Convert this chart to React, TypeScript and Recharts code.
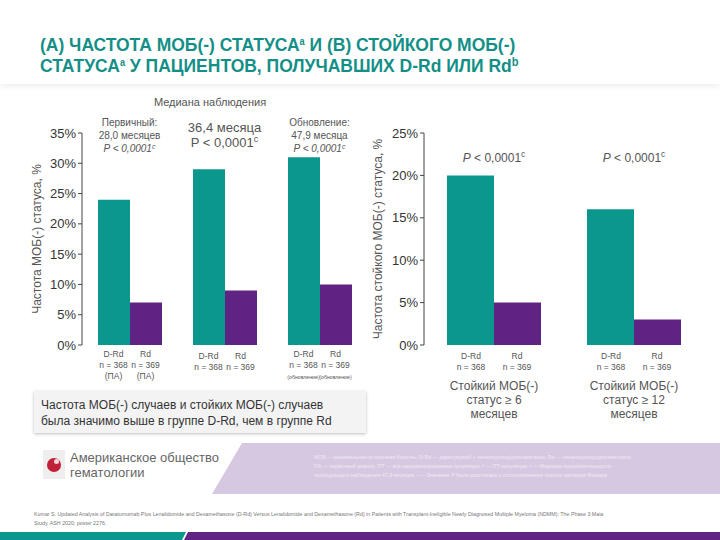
import { BarChart, Bar, XAxis, YAxis, Label } from "recharts";

const TEAL = "#0b968e";
const PURPLE = "#5f2383";
const GRAY = "#555";

// (A) MRD-negative rate, %
const groupsA = ["ПА", "Медиана", "Обновление"];
const drdA = [24, 29, 31];
const rdA = [7, 9, 10];
const topNotesA = [
  ["Первичный:", "28,0 месяцев", "P < 0,0001"],
  ["36,4 месяца", "P < 0,0001"],
  ["Обновление:", "47,9 месяца", "P < 0,0001"],
];
const subNotesA = ["(ПА)", "", "(обновление)"];
const ticksA = [0, 5, 10, 15, 20, 25, 30, 35];

// (B) sustained MRD-negative rate, %
const groupsB = ["≥ 6", "≥ 12"];
const drdB = [20, 16];
const rdB = [5, 3];
const bottomNotesB = [
  ["Стойкий МОБ(-)", "статус ≥ 6", "месяцев"],
  ["Стойкий МОБ(-)", "статус ≥ 12", "месяцев"],
];
const ticksB = [0, 5, 10, 15, 20, 25];

const dataA = groupsA.map((g, i) => ({ g, drd: drdA[i], rd: rdA[i] }));
const dataB = groupsB.map((g, i) => ({ g, drd: drdB[i], rd: rdB[i] }));

const font = "'Liberation Sans', Arial, sans-serif";

function Sup({ children }: { children: string }) {
  return <tspan baselineShift="super" fontSize="70%">{children}</tspan>;
}

function TickA(props: any) {
  const { x, index } = props;
  const notes = topNotesA[index];
  const big = notes.length === 2;
  const sub = subNotesA[index];
  return (
    <g fontFamily={font} fill={GRAY}>
      {notes.map((t, k) => {
        const last = k === notes.length - 1;
        return (
          <text
            key={k}
            x={x}
            y={big ? 32 + k * 15 : 26 + k * 13}
            textAnchor="middle"
            fontSize={big ? 13 : 10}
            fontStyle={last && !big ? "italic" : "normal"}
          >
            {t}
            {last ? <Sup>c</Sup> : null}
          </text>
        );
      })}
      {[-16, 16].map((dx, k) => (
        <g key={k} fontSize={8.5} textAnchor="middle">
          <text x={x + dx} y={257 + (index === 1 ? 2 : 0)}>{k === 0 ? "D-Rd" : "Rd"}</text>
          <text x={x + dx} y={268 + (index === 1 ? 2 : 0)}>{k === 0 ? "n = 368" : "n = 369"}</text>
          {sub ? (
            <text x={x + dx} y={279} fontSize={index === 2 ? 5.2 : 8.5}>{sub}</text>
          ) : null}
        </g>
      ))}
    </g>
  );
}

function TickB(props: any) {
  const { x, index } = props;
  return (
    <g fontFamily={font} fill={GRAY}>
      <text x={x} y={62} textAnchor="middle" fontSize={12}>
        <tspan fontStyle="italic">P</tspan> {"< 0,0001"}
        <Sup>c</Sup>
      </text>
      {[-23, 23].map((dx, k) => (
        <g key={k} fontSize={8.5} textAnchor="middle">
          <text x={x + dx} y={259}>{k === 0 ? "D-Rd" : "Rd"}</text>
          <text x={x + dx} y={270}>{k === 0 ? "n = 368" : "n = 369"}</text>
        </g>
      ))}
      {bottomNotesB[index].map((t, k) => (
        <text key={k} x={x} y={290 + k * 14} textAnchor="middle" fontSize={12}>
          {t}
        </text>
      ))}
    </g>
  );
}

const tickStyle = { fontSize: 13, fill: "#333", fontFamily: font };

const titleLine = {
  position: "absolute" as const,
  left: 40,
  color: "#138f87",
  fontWeight: 700,
  fontSize: 19,
  lineHeight: "19px",
  whiteSpace: "nowrap" as const,
  transform: "scaleX(0.92)",
  transformOrigin: "left top",
};

export default function App() {
  return (
    <div
      style={{
        position: "fixed",
        left: 0,
        top: 0,
        width: 720,
        height: 540,
        background: "#fff",
        overflow: "hidden",
        fontFamily: font,
      }}
    >
      {/* title */}
      <div
        style={{
          position: "absolute",
          left: 0,
          top: 0,
          width: 720,
          height: 84,
          background: "#fff",
          boxShadow: "0 2px 6px rgba(0,0,0,0.08)",
        }}
      />
      <div style={{ ...titleLine, top: 32 }}>
        (А) ЧАСТОТА МОБ(-) СТАТУСА<span style={{ fontSize: 10, verticalAlign: 6 }}>а</span> И (В) СТОЙКОГО МОБ(-)
      </div>
      <div style={{ ...titleLine, top: 53 }}>
        СТАТУСА<span style={{ fontSize: 10, verticalAlign: 6 }}>а</span> У ПАЦИЕНТОВ, ПОЛУЧАВШИХ D-Rd ИЛИ Rd
        <span style={{ fontSize: 12, verticalAlign: 6 }}>b</span>
      </div>

      <div style={{ position: "absolute", left: 150, top: 96, width: 120, textAlign: "center", fontSize: 11, color: GRAY }}>
        Медиана наблюдения
      </div>

      {/* chart A */}
      <div style={{ position: "absolute", left: 0, top: 100 }}>
        <BarChart
          width={380}
          height={300}
          data={dataA}
          margin={{ top: 33, right: 13, left: 32, bottom: 0 }}
          barSize={32}
          barGap={0}
        >
          <XAxis dataKey="g" axisLine={false} tickLine={false} height={55} tick={<TickA />} interval={0} />
          <YAxis
            domain={[0, 35]}
            ticks={ticksA}
            tickFormatter={(v) => `${v}%`}
            width={50}
            tick={tickStyle}
            stroke="#444"
            tickSize={4}
          >
            <Label
              value="Частота МОБ(-) статуса, %"
              angle={-90}
              position="insideLeft"
              offset={5}
              style={{ textAnchor: "middle", fontSize: 12, fill: GRAY, fontFamily: font }}
            />
          </YAxis>
          <Bar dataKey="drd" fill={TEAL} isAnimationActive={false} />
          <Bar dataKey="rd" fill={PURPLE} isAnimationActive={false} />
        </BarChart>
      </div>

      {/* chart B */}
      <div style={{ position: "absolute", left: 370, top: 100 }}>
        <BarChart
          width={350}
          height={330}
          data={dataB}
          margin={{ top: 33, right: 16, left: 4, bottom: 0 }}
          barSize={47}
          barGap={0}
        >
          <XAxis dataKey="g" axisLine={false} tickLine={false} height={85} tick={<TickB />} interval={0} />
          <YAxis
            domain={[0, 25]}
            ticks={ticksB}
            tickFormatter={(v) => `${v}%`}
            width={50}
            tick={tickStyle}
            stroke="#444"
            tickSize={4}
          >
            <Label
              value="Частота стойкого МОБ(-) статуса, %"
              angle={-90}
              position="insideLeft"
              offset={4}
              style={{ textAnchor: "middle", fontSize: 12, fill: GRAY, fontFamily: font }}
            />
          </YAxis>
          <Bar dataKey="drd" fill={TEAL} isAnimationActive={false} />
          <Bar dataKey="rd" fill={PURPLE} isAnimationActive={false} />
        </BarChart>
      </div>

      {/* conclusion box */}
      <div
        style={{
          position: "absolute",
          left: 34,
          top: 391,
          width: 318,
          height: 30,
          padding: "6px 7px",
          background: "#f3f3f3",
          boxShadow: "0 1px 3px rgba(0,0,0,0.25)",
          fontSize: 12,
          lineHeight: "16px",
          color: "#333",
        }}
      >
        Частота МОБ(-) случаев и стойких МОБ(-) случаев
        <br />
        была значимо выше в группе D-Rd, чем в группе Rd
      </div>

      {/* ASH logo */}
      <div style={{ position: "absolute", left: 43, top: 450, width: 22, height: 29, background: "#eee" }}>
        <div style={{ position: "absolute", left: 4, top: 8, width: 14, height: 14, borderRadius: 7, background: "#c0203a" }} />
        <div style={{ position: "absolute", left: 11, top: 9, width: 5, height: 5, borderRadius: 3, background: "#f4d6dc" }} />
      </div>
      <div style={{ position: "absolute", left: 70, top: 450, fontSize: 13, lineHeight: "15px", color: "#666" }}>
        Американское общество
        <br />
        гематологии
      </div>

      {/* footnote banner and bottom strip */}
      <svg style={{ position: "absolute", left: 0, top: 0 }} width={720} height={540}>
        <polygon points="242,443 720,443 720,494 212,494" fill="#d7c8e1" />
        <polygon points="0,532 186,532 182,540 0,540" fill={TEAL} />
        <polygon points="188,532 720,532 720,540 184,540" fill={PURPLE} />
      </svg>
      <div
        style={{
          position: "absolute",
          left: 314,
          top: 453,
          width: 400,
          fontSize: 5.2,
          lineHeight: "9px",
          color: "#eee8f2",
        }}
      >
        МОБ — минимальная остаточная болезнь; D-Rd — даратумумаб + леналидомид/дексаметазон; Rd — леналидомид/дексаметазон;
        <br />
        ПА — первичный анализ; ITT — все рандомизированные популяции. ª — ITT-популяция. ᵇ — Медиана продолжительности
        <br />
        последующего наблюдения 47,9 месяцев. ᶜ — Значение P было рассчитано с использованием точного критерия Фишера.
      </div>

      {/* reference */}
      <div style={{ position: "absolute", left: 34, top: 510, width: 680, fontSize: 5.3, lineHeight: "9px", color: "#777" }}>
        Kumar S. Updated Analysis of Daratumumab Plus Lenalidomide and Dexamethasone (D-Rd) Versus Lenalidomide and Dexamethasone (Rd) in Patients with Transplant-Ineligible Newly Diagnosed Multiple Myeloma (NDMM): The Phase 3 Maia
        <br />
        Study. ASH 2020; poster 2276.
      </div>
    </div>
  );
}
